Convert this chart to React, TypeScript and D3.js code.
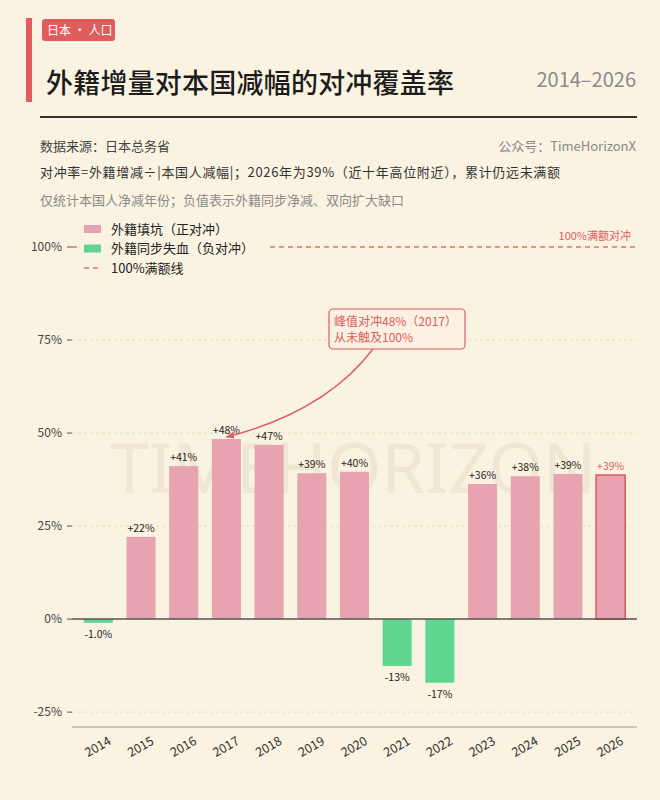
import * as React from 'react';
import * as d3 from 'd3';

const years = ['2014', '2015', '2016', '2017', '2018', '2019', '2020', '2021', '2022', '2023', '2024', '2025', '2026'];
const hedgeRate = [-1.0, 22.1, 41.1, 48.4, 46.8, 39.2, 39.6, -12.6, -17.1, 36.3, 38.4, 39.0, 38.7];
const yTicks = [-25, 0, 25, 50, 75, 100];
const legendItems = ['外籍填坑（正对冲）', '外籍同步失血（负对冲）', '100%满额线'];

const W = 660;
const H = 800;
const BG = '#faf3e1';
const RED = '#e05c5f';
const PINK = '#e8a3b0';
const GREEN = '#5fd690';
const FONT = '"Noto Sans CJK SC", "Noto Sans", sans-serif';

const fmt = (v: number) => {
    const s = Math.abs(v) < 10 ? v.toFixed(1) : Math.round(v).toString();
    return (v > 0 ? '+' : '') + s + '%';
};

export default function App() {
    const x = d3.scaleBand<string>()
        .domain(years)
        .range([77, 632])
        .paddingInner(0.32)
        .paddingOuter(0.16);
    const y = d3.scaleLinear().domain([-29, 105]).range([727, 228.4]);
    const plotL = 72;
    const plotR = 637;

    // annotation arrow: box bottom -> top of the 2017 bar
    const peakIdx = 3;
    const tipX = x(years[peakIdx])! + x.bandwidth() / 2;
    const tipY = y(hedgeRate[peakIdx]) - 2;
    const arrowPath = d3.path();
    arrowPath.moveTo(373, 349);
    arrowPath.quadraticCurveTo(325, 412, tipX, tipY);

    return (
        <svg width={W} height={H} style={{ position: 'absolute', left: 0, top: 0, fontFamily: FONT }}>
            <defs>
                <marker id="arrow" viewBox="0 0 10 10" refX="9" refY="5" markerWidth="6" markerHeight="6" orient="auto">
                    <path d="M0,1 L10,5 L0,9 z" fill={RED} />
                </marker>
            </defs>
            <rect width={W} height={H} fill={BG} />

            {/* header */}
            <rect x={26} y={18} width={6} height={84} fill={RED} />
            <rect x={42} y={19} width={73} height={22} rx={3} fill={RED} />
            <text x={47} y={34.5} fontSize={12} fill="#fff">日本 · 人口</text>
            <text x={46} y={93} fontSize={27} fontWeight={500} fill="#1c1c1c" textLength={408} lengthAdjust="spacing">外籍增量对本国减幅的对冲覆盖率</text>
            <text x={636} y={87} fontSize={20} fill="#8a8a8a" textAnchor="end">2014–2026</text>
            <line x1={40} x2={637} y1={117} y2={117} stroke="#333" strokeWidth={2} />

            <text x={40} y={151} fontSize={13} fill="#444">数据来源：日本总务省</text>
            <text x={636} y={151} fontSize={13} fill="#888" textAnchor="end">公众号：TimeHorizonX</text>
            <text x={40} y={177} fontSize={13} fill="#333" textLength={520} lengthAdjust="spacing">对冲率=外籍增减÷|本国人减幅|；2026年为39%（近十年高位附近），累计仍远未满额</text>
            <text x={40} y={205} fontSize={13} fill="#8a8a8a">仅统计本国人净减年份；负值表示外籍同步净减、双向扩大缺口</text>

            {/* watermark */}
            <text x={353} y={493} fontSize={70} fill="#efe7d3" textAnchor="middle" fontFamily='"Noto Sans", sans-serif'>TIMEHORIZON</text>

            {/* grid */}
            {yTicks.filter(t => t !== 0 && t !== 100).map(t => (
                <line key={'g' + t} x1={plotL} x2={plotR} y1={y(t)} y2={y(t)} stroke="#e4dcc8" strokeWidth={1} strokeDasharray="3,3" />
            ))}
            <line x1={plotL} x2={plotR} y1={y(100)} y2={y(100)} stroke={RED} strokeWidth={1.3} strokeDasharray="5,4" opacity={0.85} />
            <text x={631} y={240} fontSize={11} fill={RED} textAnchor="end">100%满额对冲</text>

            {/* y axis */}
            {yTicks.map(t => (
                <g key={'t' + t}>
                    <line x1={67} x2={72} y1={y(t)} y2={y(t)} stroke="#555" strokeWidth={1} />
                    <text x={62} y={y(t)} dy="0.35em" fontSize={12} fill="#444" textAnchor="end">{t}%</text>
                </g>
            ))}

            {/* bars */}
            {hedgeRate.map((v, i) => {
                const last = i === years.length - 1;
                const bx = x(years[i])!;
                return (
                    <rect key={years[i]} x={bx} width={x.bandwidth()}
                        y={Math.min(y(v), y(0))} height={Math.abs(y(v) - y(0))}
                        fill={v >= 0 ? PINK : GREEN}
                        stroke={last ? RED : 'none'} strokeWidth={last ? 1.6 : 0} />
                );
            })}
            <line x1={plotL} x2={plotR} y1={y(0)} y2={y(0)} stroke="#555" strokeWidth={1.5} />
            <line x1={plotL} x2={plotR} y1={727} y2={727} stroke="#999" strokeWidth={1} />

            {/* value labels */}
            {hedgeRate.map((v, i) => {
                const cx = x(years[i])! + x.bandwidth() / 2;
                const last = i === years.length - 1;
                return (
                    <text key={'v' + years[i]} x={cx} y={v >= 0 ? y(v) - 5 : y(v) + 15}
                        fontSize={10.5} textAnchor="middle" fill={last ? RED : '#222'}>{fmt(v)}</text>
                );
            })}

            {/* x labels */}
            {years.map(yr => (
                <text key={'x' + yr} fontSize={12.5} fill="#333" textAnchor="middle" dominantBaseline="middle"
                    transform={`translate(${x(yr)! + x.bandwidth() / 2},747.5) rotate(-30)`}>{yr}</text>
            ))}

            {/* annotation */}
            <path d={arrowPath.toString()} fill="none" stroke={RED} strokeWidth={1.4} markerEnd="url(#arrow)" />
            <rect x={329} y={309} width={136} height={40} rx={4} fill="#fbf1e3" stroke={RED} strokeWidth={1.2} />
            <text x={334} y={326} fontSize={12} fill={RED}>峰值对冲48%（2017）</text>
            <text x={334} y={342} fontSize={12} fill={RED}>从未触及100%</text>

            {/* legend */}
            <rect x={78} y={218} width={188} height={60} fill={BG} />
            {legendItems.map((name, i) => {
                const ly = 229 + i * 19.5;
                return (
                    <g key={name}>
                        {i < 2
                            ? <rect x={84} y={ly - 4} width={17} height={8} fill={i === 0 ? PINK : GREEN} />
                            : <line x1={84} x2={101} y1={ly} y2={ly} stroke={RED} strokeWidth={1.3} strokeDasharray="5,4" opacity={0.85} />}
                        <text x={111} y={ly} dy="0.35em" fontSize={13} fill="#222">{name}</text>
                    </g>
                );
            })}
        </svg>
    );
}
